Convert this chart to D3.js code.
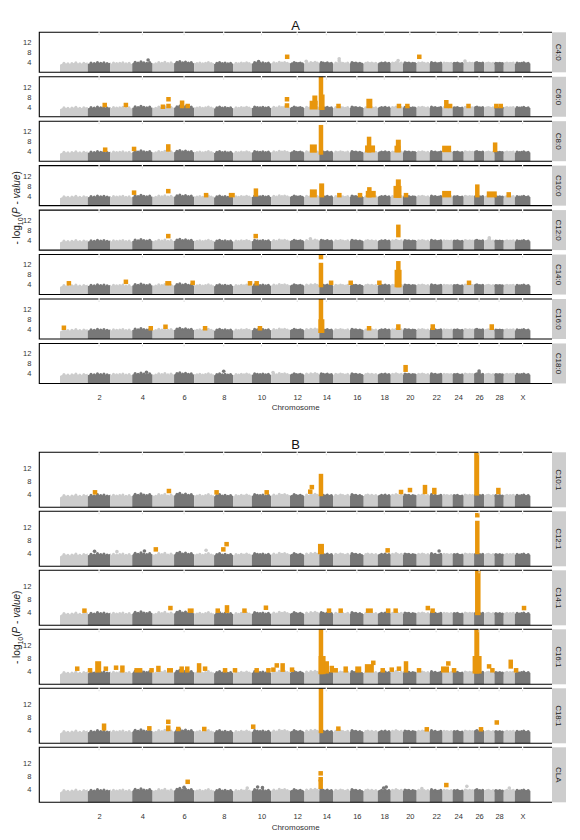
<!DOCTYPE html>
<html><head><meta charset="utf-8">
<script src="https://cdn.jsdelivr.net/npm/d3@7"></script>
<style>body{margin:0;background:#fff}svg{display:block;font-family:"Liberation Sans",Arial,sans-serif}</style>
</head><body><svg id="c" width="580" height="840"></svg>
<script>
// ---------- data ----------
const chromosomes = ["1","2","3","4","5","6","7","8","9","10","11","12","13","14","15","16","17","18","19","20","21","22","23","24","25","26","27","28","29","X"];
const chrLen = [150,122,118,110,116,108,108,104,100,104,102,78,80,76,90,74,76,70,66,74,70,70,54,60,56,54,56,50,60,84];
const tickChroms = ["2","4","6","8","10","12","14","16","18","20","22","24","26","28","X"];
const yTicks = [4,8,12];
// background (non-significant) SNP cloud: top of -log10(p) along each chromosome
const bgTop = [
 [3.0,3.6,3.4,3.5,3.8,3.4,3.6,3.9],[3.3,3.7,3.5,3.9,3.6,3.8,3.5,3.9],[3.4,3.7,3.5,3.6,3.8,3.4,3.6,3.3],[3.5,4.0,3.7,4.2,3.8,3.6,3.9,3.6],
 [3.7,3.4,3.9,3.6,4.0,3.5,3.8,3.6],[3.6,4.0,4.3,3.8,4.1,3.7,3.9,3.6],[3.8,3.5,3.7,3.4,3.6,3.9,3.5,3.7],[3.3,3.6,3.9,3.5,3.7,3.4,3.6,3.4],
 [3.2,3.6,3.4,3.7,3.5,3.8,3.5,3.6],[3.4,3.9,3.7,3.6,3.8,3.5,3.7,3.5],[3.6,3.8,3.5,4.0,3.7,3.9,3.6,3.8],[3.7,3.4,3.9,3.6,3.5,3.7,3.4,3.5],
 [3.5,3.8,3.4,3.9,3.6,4.0,3.7,3.9],[3.6,3.9,3.7,3.5,3.8,3.4,3.6,3.5],[3.4,3.7,3.5,3.8,3.6,3.4,3.7,3.5],[3.5,3.9,3.6,3.7,3.4,3.6,3.3,3.5],
 [3.4,3.6,3.8,3.5,3.7,3.4,3.6,3.4],[3.6,3.4,3.7,3.5,3.8,3.4,3.6,3.5],[3.3,3.7,3.5,3.9,3.6,3.4,3.7,3.5],[3.5,3.8,3.6,3.7,3.4,3.6,3.5,3.7],
 [3.4,3.7,3.5,3.8,3.6,3.3,3.6,3.4],[3.6,3.9,3.5,3.7,3.4,3.5,3.7,3.5],[3.5,3.7,3.4,3.6,3.5,3.4,3.6,3.4],[3.4,3.6,3.5,3.7,3.4,3.3,3.5,3.4],
 [3.5,3.8,3.6,3.4,3.7,3.5,3.6,3.4],[3.4,3.7,3.9,3.5,3.6,3.4,3.7,3.5],[3.5,3.4,3.6,3.7,3.5,3.3,3.6,3.4],[3.4,3.6,3.5,3.4,3.6,3.4,3.5,3.3],
 [3.3,3.5,3.7,3.4,3.6,3.5,3.7,3.4],[3.4,3.7,3.5,3.6,3.8,3.4,3.6,3.5]
];
// significant SNPs: [chromosome #, position within chromosome (0-1), low -log10p, high -log10p, column width px]
const sig_C4_0  = [[11,0.85,6.2,6.2],[21,0.2,6.2,6.2]];
const sig_C6_0  = [[2,0.75,4.7,4.7],[3,0.71,4.7,4.7],[5,0.48,4.0,4.0],[5,0.74,4.3,4.3],[5,0.74,7,7],[6,0.4,4.3,5.6],[6,0.68,4.3,4.3],[11,0.84,4.5,4.5],[11,0.84,7,7],[13,0.62,3.8,5.5,8],[13,0.7,5.5,7.6,5],[14,0.12,3.6,15.6,4.5],[14,0.2,3.6,8,5],[15,0.31,4.3,4.3],[17,0.4,4.3,6.3,6],[19,0.67,4.3,4.3],[20,0.32,4.3,4.3],[23,0.37,4.3,5.8],[23,0.75,4.3,4.3],[25,0.46,4.3,4.3],[28,0.2,4.3,4.3],[28,0.68,4.3,4.3]];
const sig_C8_0  = [[2,0.77,4.6,4.6],[4,0.09,4.9,4.9],[5,0.73,4.7,5.9],[13,0.6,4.3,5.8,7],[14,0.12,3.5,13.6,4.5],[17,0.38,4.4,8.9],[17,0.45,4.4,5.4,10],[19,0.62,4.5,7.7,5],[19,0.55,4.4,5.3,6],[23,0.4,4.5,5.3,9],[28,0.07,4.5,6.6]];
const sig_C10_0 = [[4,0.09,5.2,5.2],[5,0.73,5.8,5.8],[7,0.6,4.2,4.2],[8,0.92,4.2,4.2,6],[10,0.21,4.5,6.0],[13,0.6,4.2,5.6,7],[14,0.17,4.2,8.0,5],[15,0.36,4.2,4.2],[16,0.73,4.2,4.2],[17,0.4,4.2,6.5],[17,0.5,4.2,5.0,10],[19,0.62,4.2,9.6,5],[19,0.55,4.0,7.0,8],[20,0.22,4.2,4.2],[23,0.4,4.2,5.0,9],[26,0.32,4.2,7.6],[27,0.74,4.2,4.8,10],[29,0.45,4.2,4.5]];
const sig_C12_0 = [[5,0.73,5.6,5.6],[10,0.2,5.6,5.6],[19,0.62,6.0,9.3]];
const sig_C14_0 = [[1,0.32,4.5,4.5],[3,0.71,5.1,5.1],[5,0.73,4.5,4.5,6],[6,0.93,4.7,4.7],[9,0.9,4.5,4.5],[10,0.25,4.5,4.5],[14,0.12,15,15],[14,0.12,3.8,11.8,4.5],[14,0.84,4.7,4.7],[16,0.05,4.7,4.7],[18,0.12,4.7,4.7],[19,0.62,3.8,12.5,4.5],[19,0.6,3.8,9,7],[25,0.51,4.7,4.7]];
const sig_C16_0 = [[1,0.14,4.5,4.5],[4,0.91,4.3,4.3],[5,0.6,4.9,4.9],[7,0.55,4.3,4.3],[10,0.42,4.3,4.3],[14,0.12,3.3,16,4.5],[14,0.15,3.3,7,6],[17,0.38,4.3,4.3],[19,0.62,4.5,5],[22,0.24,4.5,5],[27,0.74,4.5,5]];
const sig_C18_0 = [[20,0.19,5.5,6.5]];
const sig_C10_1 = [[2,0.32,4.6,4.6],[5,0.76,5.0,5.0],[8,0.13,4.6,4.6],[10,0.77,4.6,4.6],[13,0.39,4.8,4.8],[13,0.5,6.2,6.2],[14,0.12,4.1,9.6,4.5],[19,0.84,4.7,4.7],[20,0.51,5.3,5.3],[21,0.64,4.7,6.2],[22,0.36,4.7,5.3],[26,0.26,4.3,16.1,5],[28,0.42,4.7,5.3]];
const sig_C12_1 = [[5,0.15,5.2,5.2],[8,0.48,5.2,5.2],[8,0.65,6.8,6.8],[14,0.12,4.4,6.2,6],[18,0.76,4.9,4.9],[26,0.32,15.7,15.7],[26,0.32,4.4,13.3,4.5]];
const sig_C14_1 = [[1,0.88,4.5,4.5],[5,0.83,5.3,5.3],[6,0.83,4.5,4.5,6],[8,0.19,4.5,4.5],[8,0.67,4.5,5.5],[9,0.6,4.5,4.5],[10,0.73,5.4,5.4],[14,0.69,4.5,4.5],[15,0.44,4.5,4.5],[17,0.4,4.5,4.5,7],[18,0.8,4.5,4.5],[19,0.4,4.5,4.5],[21,0.86,5.3,5.3],[22,0.23,4.5,4.5],[26,0.37,3.8,16.4,5.5],[30,0.59,5.3,5.3]];
const sig_C16_1 = [[1,0.62,4.8,4.8],[2,0.1,4.3,4.3],[2,0.46,4.3,6.4,6],[2,0.8,4.8,4.8],[3,0.26,5.1,5.1],[3,0.55,4.3,5.1],[4,0.3,4.3,4.3,8],[4,0.95,4.3,4.3],[5,0.27,4.5,5.0],[5,0.81,4.3,4.3,6],[6,0.38,4.3,4.8],[6,0.66,4.3,4.8],[7,0.25,4.3,5.8],[7,0.55,4.8,4.8],[8,0.57,4.3,4.3],[9,0.09,4.3,4.3],[10,0.25,4.3,4.3],[10,0.86,4.3,4.3],[11,0.12,4.5,4.5],[11,0.3,5.8,5.8],[11,0.61,4.5,5.8],[12,0.14,4.5,4.5],[14,0.12,3.8,16.9,4.5],[14,0.2,3.8,8,7],[14,0.53,4.0,6.4],[14,0.89,4.3,5.0],[15,0.14,4.3,4.3],[15,0.74,4.3,4.8],[16,0.6,4.3,4.8,6],[17,0.4,4.3,5.5,9],[17,0.68,6.6,6.6],[18,0.38,4.3,4.3],[19,0.08,4.5,4.5],[19,0.67,4.8,4.8],[20,0.22,4.3,6.4],[21,0.18,4.3,4.3],[23,0.24,4.3,4.8,8],[23,0.57,6.4,6.4],[24,0.13,4.3,4.3],[26,0.27,4.0,16.3,5],[26,0.3,4.0,8,9],[27,0.48,5.5,5.5],[27,0.8,4.3,4.3],[29,0.63,5.5,6.9],[30,0.08,4.3,4.3]];
const sig_C18_1 = [[2,0.72,4.6,5.4],[4,0.84,4.6,4.6],[5,0.73,4.4,4.8],[5,0.73,6.6,6.6],[6,0.21,4.4,4.4],[7,0.51,4.4,4.4],[10,0.07,5.1,5.1],[14,0.12,3.8,16.8,4.5],[15,0.3,4.5,4.5],[21,0.78,4.3,4.3],[26,0.69,4.3,4.3],[28,0.25,6.4,6.4]];
const sig_CLA   = [[6,0.68,6.3,6.3],[14,0.1,8.9,8.9],[14,0.1,7.1,7.1],[14,0.1,4.8,6.3],[23,0.37,5.3,5.3]];
// isolated grey (non-significant) SNPs above the cloud: [chromosome #, position, -log10p]
const grey_C4_0  = [[4,0.78,4.9],[15,0.35,4.6],[15,0.35,5.4],[13,0.12,4.4],[19,0.6,4.7],[25,0.12,4.5],[10,0.35,4.3]];
const grey_C12_0 = [[27,0.5,4.9],[27,0.5,4.3],[13,0.4,4.5]];
const grey_C18_0 = [[8,0.5,4.9],[26,0.5,5.0],[26,0.5,4.3],[11,0.1,4.4],[4,0.7,4.5]];
const grey_C12_1 = [[22,0.73,4.7],[4,0.6,4.7],[7,0.6,4.9],[3,0.3,4.5],[2,0.3,4.6]];
const grey_CLA   = [[14,0.1,4.3],[10,0.3,4.7],[10,0.55,4.5],[18,0.45,4.4],[18,0.65,4.7],[25,0.3,4.9],[29,0.5,4.4],[9,0.75,4.4],[21,0.4,4.2],[6,0.5,4.6]];
const traitsA = ["C4:0","C6:0","C8:0","C10:0","C12:0","C14:0","C16:0","C18:0"];
const traitsB = ["C10:1","C12:1","C14:1","C16:1","C18:1","CLA"];
const sigA = [sig_C4_0,sig_C6_0,sig_C8_0,sig_C10_0,sig_C12_0,sig_C14_0,sig_C16_0,sig_C18_0];
const sigB = [sig_C10_1,sig_C12_1,sig_C14_1,sig_C16_1,sig_C18_1,sig_CLA];
const greyA = [grey_C4_0,[],[],[],grey_C12_0,[],[],grey_C18_0];
const greyB = [[],grey_C12_1,[],[],[],grey_CLA];

// ---------- drawing ----------
const svg = d3.select("#c");
const LIGHT = "#cccccc", DARK = "#787878", ORANGE = "#e8960c";
const starts = []; let acc = 0;
chrLen.forEach(l => { starts.push(acc); acc += l; });
const total = acc;
const x = d3.scaleLinear().domain([0,total]).range([60,530.4]);
const posOf = (c,f) => starts[c-1] + f*chrLen[c-1];
const tickPos = tickChroms.map(c => { const i = chromosomes.indexOf(c); return starts[i] + chrLen[i]/2; });
const PL = 39.3, PR = 552, SW = 14;

function panel(top, h, ymax, trait, sig, grey) {
  const y = d3.scaleLinear().domain([0,ymax]).range([top+h, top]);
  const g = svg.append("g");
  // background clouds
  chromosomes.forEach((c,i) => {
    const n = bgTop[i].length;
    const prof = bgTop[i].map((v,k) => [starts[i] + chrLen[i]*k/(n-1), v]);
    const col = i%2===0 ? LIGHT : DARK;
    g.append("path")
      .attr("d", d3.area().x(d=>x(d[0])).y0(y(0)).y1(d=>y(d[1])).curve(d3.curveCatmullRom)(prof))
      .attr("fill", col);
    g.selectAll(null).data(prof.slice(1,-1)).join("circle")
      .attr("cx", d=>x(d[0])).attr("cy", d=>y(d[1])).attr("r",1.5).attr("fill",col);
  });
  g.selectAll(null).data(grey).join("circle")
    .attr("cx", d=>x(posOf(d[0],d[1]))).attr("cy", d=>y(d[2])).attr("r",1.8)
    .attr("fill", d=> (d[0]-1)%2===0 ? LIGHT : DARK);
  // significant SNPs
  const s = 4.5;
  g.selectAll(null).data(sig).join("rect")
    .attr("x", d=>x(posOf(d[0],d[1])) - (d[4]||s)/2)
    .attr("width", d=>d[4]||s)
    .attr("y", d=>Math.max(top, y(d[3]) - s/2))
    .attr("height", d=>Math.min(top+h, y(d[2]) + s/2) - Math.max(top, y(d[3]) - s/2))
    .attr("fill", ORANGE);
  // y axis
  const ay = g.append("g").attr("transform",`translate(${PL},0)`)
    .call(d3.axisLeft(y).tickValues(yTicks).tickSize(0).tickPadding(8));
  ay.select(".domain").remove();
  ay.selectAll("text").attr("font-size",7.5).attr("fill","#333").attr("font-family","Liberation Sans, Arial, sans-serif");
  // frame
  g.append("path").attr("d",`M${PR},${top}H${PL}V${top+h}H${PR}`).attr("fill","none").attr("stroke","#000").attr("stroke-width",1.1);
  // faint top ticks
  tickPos.forEach(t => {
    g.append("line").attr("x1",x(t)).attr("x2",x(t)).attr("y1",top-1).attr("y2",top+1).attr("stroke","#fff").attr("stroke-width",1.2);
    g.append("line").attr("x1",x(t)).attr("x2",x(t)).attr("y1",top+1.5).attr("y2",top+3).attr("stroke","#ddd").attr("stroke-width",1);
  });
  // strip
  g.append("rect").attr("x",PR).attr("y",top).attr("width",SW).attr("height",h).attr("fill","#cdcdcd");
  g.append("text").attr("transform",`translate(${PR+SW/2},${top+h/2}) rotate(90)`)
    .attr("text-anchor","middle").attr("dy","0.35em").attr("font-size",8).attr("fill","#1a1a1a").text(trait);
}

function block(title, titleY, traits, sigs, greys, top0, pitch, h, ymax, labY, chromY) {
  svg.append("text").attr("x",(PL+PR)/2).attr("y",titleY).attr("text-anchor","middle").attr("font-size",13).attr("fill","#111").text(title);
  traits.forEach((t,i) => panel(top0 + i*pitch, h, ymax, t, sigs[i], greys[i]));
  const bottom = top0 + (traits.length-1)*pitch + h;
  const ax = svg.append("g").attr("transform",`translate(0,${labY})`)
    .call(d3.axisBottom(x).tickValues(tickPos).tickFormat((d,i)=>tickChroms[i]).tickSize(0).tickPadding(0));
  ax.select(".domain").remove();
  ax.selectAll("text").attr("font-size",7.5).attr("fill","#333").attr("dy","0").attr("font-family","Liberation Sans, Arial, sans-serif");
  svg.append("text").attr("x",(PL+PR)/2).attr("y",chromY).attr("text-anchor","middle").attr("font-size",8).attr("fill","#333").text("Chromosome");
  const cy = (top0 + bottom)/2;
  const lab = svg.append("text").attr("transform",`translate(20,${cy}) rotate(-90)`).attr("text-anchor","middle")
    .attr("font-size",10).attr("fill","#222");
  lab.append("tspan").text("- log");
  lab.append("tspan").attr("font-size",7).attr("dy",2.5).text("10");
  lab.append("tspan").attr("dy",-2.5).text("(");
  lab.append("tspan").attr("font-style","italic").text("P");
  lab.append("tspan").text(" - ");
  lab.append("tspan").attr("font-style","italic").text("value");
  lab.append("tspan").text(")");
}

block("A", 29.5, traitsA, sigA, greyA, 32.3, 44.45, 40, 16, 399.5, 410);
block("B", 449, traitsB, sigB, greyB, 452.3, 59, 55, 16.9, 819, 830);
</script></body></html>
